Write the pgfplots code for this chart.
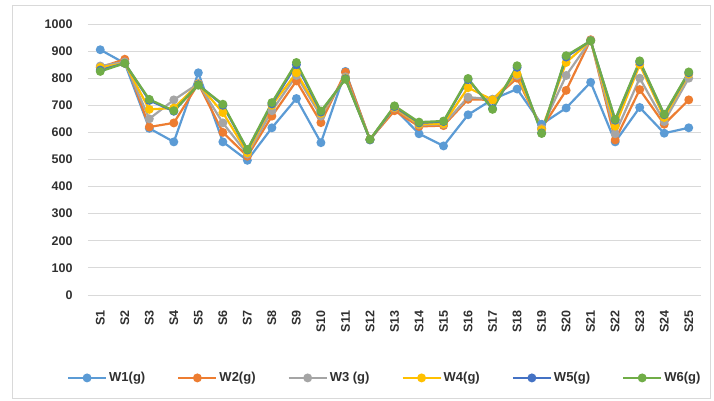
\documentclass[border=0pt]{standalone}
\usepackage{fontspec}
\setmainfont{Liberation Sans}
\usepackage{pgfplots}
\usepackage{pgfplotstable}
\pgfplotsset{compat=1.18}
\definecolor{c1}{HTML}{5B9BD5}
\definecolor{c2}{HTML}{ED7D31}
\definecolor{c3}{HTML}{A5A5A5}
\definecolor{c4}{HTML}{FFC000}
\definecolor{c5}{HTML}{4472C4}
\definecolor{c6}{HTML}{70AD47}
\definecolor{txt}{HTML}{303030}
\pgfplotstableread{
x W1 W2 W3 W4 W5 W6
0 905 840 845 840 830 825
1 855 870 860 855 855 855
2 615 620 650 685 718 722
3 565 635 720 690 678 680
4 820 780 780 778 776 774
5 565 600 635 673 700 704
6 497 512 520 525 535 537
7 617 660 680 700 705 710
8 725 790 810 820 850 858
9 562 636 660 670 675 679
10 825 822 805 800 798 796
11 572 574 574 574 573 574
12 688 680 690 692 695 698
13 595 622 628 630 635 638
14 550 625 630 632 640 642
15 665 722 730 765 795 799
16 722 720 722 720 688 685
17 760 800 810 815 840 846
18 630 615 615 610 598 596
19 690 755 810 858 878 883
20 785 942 940 938 938 938
21 565 572 595 623 645 648
22 692 758 800 850 860 864
23 597 630 640 655 665 667
24 617 720 800 815 820 823
}\datatable
\begin{document}
\begin{tikzpicture}
\useasboundingbox (-88pt,-106pt) rectangle (626pt,295pt);
\draw[fill=white, draw=black!15] (-76pt,-103pt) rectangle (622pt,290pt);
\begin{axis}[
  at={(0pt,0pt)}, anchor=south west,
  scale only axis, width=613pt, height=271pt,
  xmin=-0.5, xmax=24.5, ymin=0, ymax=1000,
  ytick={0,100,...,1000},
  xtick={0,...,24},
  xticklabels={S1,S2,S3,S4,S5,S6,S7,S8,S9,S10,S11,S12,S13,S14,S15,S16,S17,S18,S19,S20,S21,S22,S23,S24,S25},
  ymajorgrids, grid style={draw=black!15, line width=0.8pt},
  axis line style={draw=none},
  major tick length=0pt,
  /pgf/number format/1000 sep={},
  /pgf/number format/assume math mode=true,
  ticklabel style={font=\fontsize{12.5}{14}\selectfont\bfseries, text=txt},
  yticklabel shift=12pt,
  xticklabel style={rotate=90, anchor=east},
  xticklabel shift=12pt,
  legend columns=6,
  legend style={at={(axis description cs:0.484,-0.306)}, anchor=center, draw=none,
    font=\fontsize{13}{15}\selectfont\bfseries, text=txt,
    /tikz/every even column/.append style={column sep=30pt}},
  legend image code/.code={\draw[mark repeat=2,mark phase=2] plot coordinates {(0pt,0pt) (19pt,0pt) (38pt,0pt)};},
  every axis plot/.append style={line width=2.2pt, mark=*, mark size=3.3pt},
]
\addplot[c1, mark options={fill=c1}] table[x=x,y=W1] {\datatable};
\addlegendentry{W1(g)}
\addplot[c2, mark options={fill=c2}] table[x=x,y=W2] {\datatable};
\addlegendentry{W2(g)}
\addplot[c3, mark options={fill=c3}] table[x=x,y=W3] {\datatable};
\addlegendentry{W3 (g)}
\addplot[c4, mark options={fill=c4}] table[x=x,y=W4] {\datatable};
\addlegendentry{W4(g)}
\addplot[c5, mark options={fill=c5}] table[x=x,y=W5] {\datatable};
\addlegendentry{W5(g)}
\addplot[c6, mark options={fill=c6}] table[x=x,y=W6] {\datatable};
\addlegendentry{W6(g)}
\end{axis}
\end{tikzpicture}
\end{document}
